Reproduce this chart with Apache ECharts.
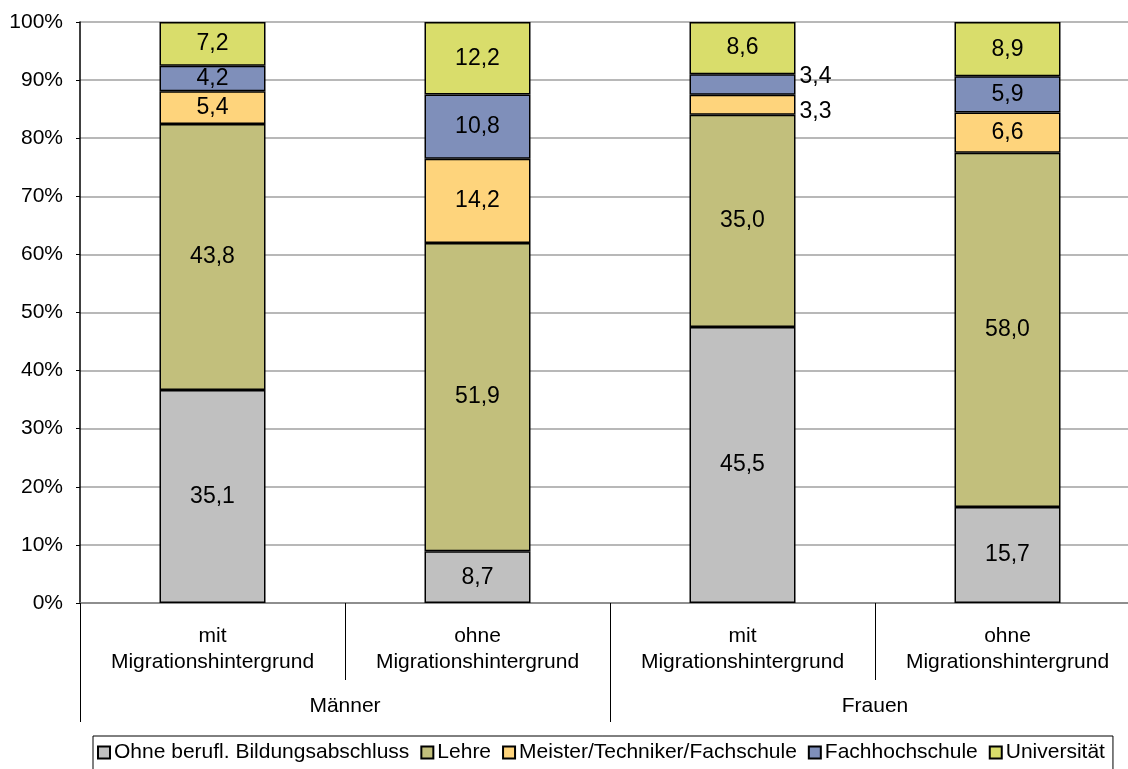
<!DOCTYPE html>
<html>
<head>
<meta charset="utf-8">
<script src="https://cdn.jsdelivr.net/npm/echarts@6/dist/echarts.min.js"></script>
<style>
  html, body { margin: 0; padding: 0; background: #fff; }
  #chart { width: 1128px; height: 769px; }
</style>
</head>
<body>
<div id="chart"></div>
<script>
// Categories: two origin groups within each gender
const categories = ['mit\nMigrationshintergrund', 'ohne\nMigrationshintergrund',
                    'mit\nMigrationshintergrund', 'ohne\nMigrationshintergrund'];
const genders = ['Männer', 'Frauen'];

// Qualification shares (in %) per bar, in bar order
const ohneAbschluss = [35.1, 8.7, 45.5, 15.7];
const lehre         = [43.8, 51.9, 35.0, 58.0];
const meister       = [5.4, 14.2, 3.3, 6.6];
const fachhochschule= [4.2, 10.8, 3.4, 5.9];
const universitaet  = [7.2, 12.2, 8.6, 8.9];

const yTicks = [0, 10, 20, 30, 40, 50, 60, 70, 80, 90, 100];

const seriesDefs = [
  { name: 'Ohne berufl. Bildungsabschluss', values: ohneAbschluss, color: '#c0c0c0' },
  { name: 'Lehre', values: lehre, color: '#c2bf7c' },
  { name: 'Meister/Techniker/Fachschule', values: meister, color: '#fed47c' },
  { name: 'Fachhochschule', values: fachhochschule, color: '#7f8fba' },
  { name: 'Universität', values: universitaet, color: '#d9dd6b' }
];

// Each bar is scaled to 100 % of its column total
const totals = categories.map((_, i) => seriesDefs.reduce((s, d) => s + d.values[i], 0));

const FONT = 'Liberation Sans, Arial, sans-serif';
const fmt = v => v.toFixed(1).replace('.', ',');

// Thin segments in the third column carry their labels beside the bar
const outsideLabels = {
  'Meister/Techniker/Fachschule': { 2: [0, 7] },
  'Fachhochschule': { 2: [0, -8] }
};

const series = seriesDefs.map(d => ({
  name: d.name,
  type: 'bar',
  stack: 'total',
  barWidth: 106,
  xAxisIndex: 0,
  itemStyle: { color: d.color, borderColor: '#000', borderWidth: 1.5 },
  label: {
    show: true,
    position: 'inside',
    color: '#000',
    fontFamily: FONT,
    fontSize: 23,
    formatter: p => fmt(p.data.raw)
  },
  data: d.values.map((v, i) => {
    const item = { value: v / totals[i] * 100, raw: v };
    const o = outsideLabels[d.name] && outsideLabels[d.name][i];
    if (o) item.label = { position: 'right', distance: 4, offset: o };
    return item;
  })
}));

const chart = echarts.init(document.getElementById('chart'), null, { renderer: 'canvas' });
chart.setOption({
  animation: false,
  backgroundColor: '#fff',
  // plot area runs slightly past the right edge of the canvas
  grid: { left: 80, top: 22, width: 1060, height: 581, containLabel: false, outerBoundsMode: 'none' },
  legend: {
    top: 736,
    left: 93,
    icon: 'rect',
    itemWidth: 12,
    itemHeight: 12,
    itemGap: 11,
    padding: [6, 8, 10, 4],
    borderColor: '#000',
    borderWidth: 1,
    textStyle: { fontFamily: FONT, fontSize: 21, color: '#000', padding: [0, 0, 0, -1] },
    data: seriesDefs.map(d => d.name)
  },
  xAxis: [
    {
      type: 'category',
      data: categories,
      position: 'bottom',
      axisLine: { show: true, lineStyle: { color: '#808080', width: 1.5 } },
      axisTick: { show: true, length: 77, interval: 0, lineStyle: { color: '#000', width: 1 } },
      axisLabel: {
        interval: 0, margin: 20, color: '#000',
        fontFamily: FONT, fontSize: 21, lineHeight: 26
      },
      splitLine: { show: false }
    },
    {
      type: 'category',
      data: genders,
      position: 'bottom',
      axisLine: { show: false },
      axisTick: { show: true, length: 119, interval: 0, lineStyle: { color: '#000', width: 1 } },
      axisLabel: {
        interval: 0, margin: 93, color: '#000',
        fontFamily: FONT, fontSize: 21
      },
      splitLine: { show: false }
    }
  ],
  yAxis: {
    type: 'value',
    min: yTicks[0],
    max: yTicks[yTicks.length - 1],
    interval: yTicks[1] - yTicks[0],
    axisLine: { show: true, lineStyle: { color: '#000', width: 1.5 } },
    axisTick: { show: true, length: 4, lineStyle: { color: '#000' } },
    axisLabel: {
      margin: 17, color: '#000', fontFamily: FONT, fontSize: 21,
      formatter: '{value}%'
    },
    splitLine: { show: true, lineStyle: { color: '#a0a0a0', width: 1.5 } }
  },
  series: series
});
</script>
</body>
</html>
